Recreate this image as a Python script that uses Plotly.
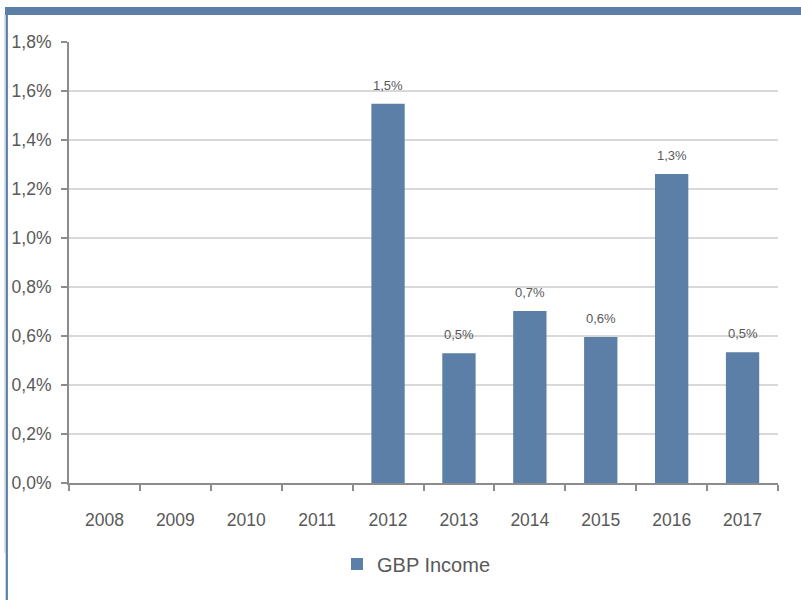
import plotly.graph_objects as go

years = ["2008", "2009", "2010", "2011", "2012", "2013", "2014", "2015", "2016", "2017"]
gbp_income = [None, None, None, None, 0.01548, 0.0053, 0.00702, 0.00596, 0.01261, 0.00534]
series_name = "GBP Income"

BAR = "#5B7FA6"
TXT = "#595959"
AX = "#8C8C8C"
GRID = "#D9D9D9"

W, H = 801, 600
L, R, T, B = 69, 778, 42, 483


def px_x(p):
    return (p - L) / (R - L)


def px_y(p):
    return (B - p) / (B - T)


fig = go.Figure()
fig.add_trace(go.Bar(
    x=years, y=gbp_income, name=series_name,
    marker=dict(color=BAR, line=dict(width=0)),
))

for i, v in enumerate(gbp_income):
    if v is None:
        continue
    fig.add_annotation(
        x=i, y=v, text=f"{v*100:.1f}%".replace(".", ","),
        showarrow=False, yanchor="bottom", yshift=9,
        font=dict(family="Liberation Sans, Arial", size=13, color=TXT),
    )

fig.update_layout(
    width=W, height=H,
    margin=dict(l=L, r=W - R, t=T, b=H - B, autoexpand=False),
    paper_bgcolor="white", plot_bgcolor="white",
    separators=",.",
    bargap=0.53,
    showlegend=True,
    legend=dict(
        orientation="h", x=0.5 - 7 / (R - L), xanchor="center", y=px_y(564), yanchor="middle",
        font=dict(family="Liberation Sans, Arial", size=20, color=TXT),
        itemwidth=30,
    ),
    font=dict(family="Liberation Sans, Arial", color=TXT),
    xaxis=dict(
        type="category", range=[-0.5, len(years) - 0.5], tickangle=0, automargin=False,
        showline=True, linecolor=AX, linewidth=2,
        ticks="outside", tickson="boundaries", ticklen=6, tickwidth=2, tickcolor=AX,
        tickfont=dict(size=17.5, color=TXT),
        ticklabelstandoff=20,
        showgrid=False, fixedrange=True,
    ),
    yaxis=dict(
        range=[0, 0.018], dtick=0.002, tickformat=".1%", automargin=False,
        showline=True, linecolor=AX, linewidth=2,
        ticks="outside", ticklen=6, tickwidth=2, tickcolor=AX,
        tickfont=dict(size=17.5, color=TXT),
        ticklabelstandoff=6,
        showgrid=True, gridcolor=GRID, gridwidth=2,
        zeroline=False, fixedrange=True,
    ),
    shapes=[
        dict(type="rect", xref="paper", yref="paper",
             x0=px_x(5), x1=px_x(802), y0=px_y(15), y1=px_y(7),
             fillcolor=BAR, line=dict(width=0), layer="above"),
        dict(type="line", xref="paper", yref="paper",
             x0=px_x(6.8), x1=px_x(6.8), y0=px_y(7), y1=px_y(601),
             line=dict(color=BAR, width=2.2)),
        dict(type="line", xref="paper", yref="paper",
             x0=px_x(5), x1=px_x(5), y0=px_y(15), y1=px_y(553),
             line=dict(color="#B8C4D2", width=1)),
    ],
)

fig.write_html(
    "out.html",
    config={"displayModeBar": False},
    post_script="document.body.style.margin='0';document.body.style.overflow='hidden';",
)
